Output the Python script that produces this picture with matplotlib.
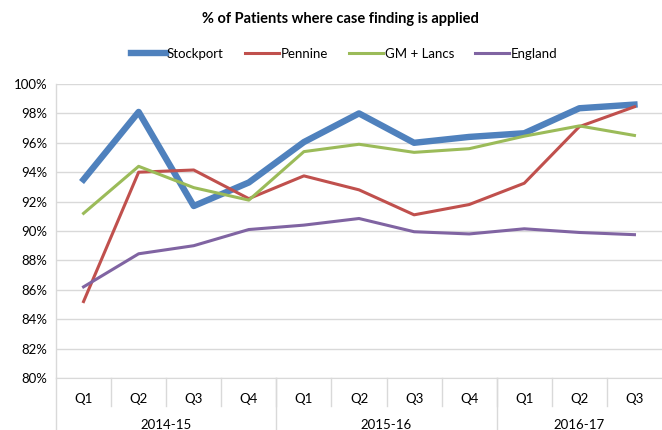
import matplotlib.pyplot as plt
from matplotlib.ticker import FuncFormatter
from matplotlib.transforms import blended_transform_factory
import numpy as np

plt.rcParams["font.family"] = ["Lato", "DejaVu Sans"]

quarters = ["Q1", "Q2", "Q3", "Q4", "Q1", "Q2", "Q3", "Q4", "Q1", "Q2", "Q3"]
years = ["2014-15", "2015-16", "2016-17"]
year_sizes = [4, 4, 3]

stockport = [93.5, 98.1, 91.7, 93.3, 96.05, 98.0, 96.0, 96.4, 96.65, 98.35, 98.6]
pennine = [85.2, 94.0, 94.15, 92.2, 93.75, 92.8, 91.1, 91.8, 93.25, 97.1, 98.45]
gm_lancs = [91.2, 94.4, 92.95, 92.1, 95.4, 95.9, 95.35, 95.6, 96.45, 97.15, 96.5]
england = [86.2, 88.45, 89.0, 90.1, 90.4, 90.85, 89.95, 89.8, 90.15, 89.9, 89.75]

x = np.arange(len(quarters))

fig = plt.figure(figsize=(6.62, 4.3), dpi=100)
ax = fig.add_axes([56 / 662, 52 / 430, 606 / 662, 294 / 430])

ax.plot(x, stockport, color="#4F81BD", lw=4.6, label="Stockport")
ax.plot(x, pennine, color="#C0504D", lw=2.2, label="Pennine")
ax.plot(x, gm_lancs, color="#9BBB59", lw=2.2, label="GM + Lancs")
ax.plot(x, england, color="#8064A2", lw=2.2, label="England")

ax.set_ylim(80, 100)
ax.set_yticks(np.arange(80, 101, 2))
ax.yaxis.set_major_formatter(FuncFormatter(lambda v, p: f"{v:.0f}%"))
ax.set_xlim(-0.5, len(quarters) - 0.5)
ax.set_xticks(x)
ax.set_xticklabels(quarters)
ax.tick_params(axis="both", length=0, labelsize=9.5, colors="#000000")
ax.tick_params(axis="x", pad=11)
ax.tick_params(axis="y", pad=6)
ax.grid(axis="y", color="#D9D9D9", lw=1)
ax.set_axisbelow(True)

for side in ["top", "right", "left"]:
    ax.spines[side].set_visible(False)
ax.spines["bottom"].set_color("#D9D9D9")

# category separators below the axis
trans = blended_transform_factory(ax.transData, ax.transAxes)
ax.plot([-0.5, -0.5], [1, 0], color="#D9D9D9", lw=1, transform=trans, clip_on=False)
for b in np.arange(0.5, len(quarters) - 0.5, 1):
    ax.plot([b, b], [0, -0.095], color="#D9D9D9", lw=1, transform=trans, clip_on=False)

start = -0.5
for yr, n in zip(years, year_sizes):
    ax.plot([start, start], [0, -0.18], color="#D9D9D9", lw=1, transform=trans, clip_on=False)
    ax.text(start + n / 2, -0.16, yr, transform=trans, ha="center", va="center", fontsize=9.5)
    start += n

fig.text(0.515, 0.955, "% of Patients where case finding is applied",
         ha="center", va="center", fontsize=10.5, fontweight="bold")
fig.legend(loc="center", bbox_to_anchor=(0.52, 0.875), ncol=4, frameon=False,
           fontsize=9.5, handlelength=2.6, handletextpad=0.1, columnspacing=1.6)

fig.savefig("out.png", dpi=100)
